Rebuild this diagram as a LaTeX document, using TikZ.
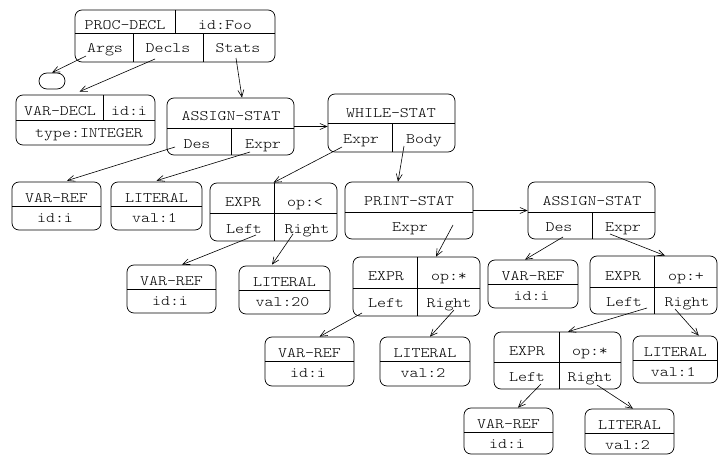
\documentclass[tikz,border=0pt]{standalone}
\usepackage{fontspec}
\setmonofont{lmmonolt10-regular.otf}[FakeStretch=1.18]
\usetikzlibrary{arrows.meta,calc}
\tikzset{
  ast/.style={draw, rounded corners=7pt, inner sep=0pt},
  field/.style={font=\ttfamily\fontsize{14.5}{16}\selectfont, inner sep=0pt, text height=9pt, text depth=0pt},
  link/.style={-{Straight Barb[length=7pt,width=6pt]}, line width=0.6pt},
}
% box from its corners (x1,y1) (x2,y2)
\newcommand{\astbox}[5]{%
  \node[ast, minimum width={#4-#2}, minimum height={#5-#3}] (#1) at ({(#2+#4)/2},{(#3+#5)/2}) {};}
\begin{document}
\begin{tikzpicture}[x=1pt,y=-1pt,line width=0.7pt]
  \useasboundingbox (0,0) rectangle (718,455);
  % PROC-DECL
  \astbox{proc}{75}{10}{275}{62}
  \draw (75,33) -- (275,33) (175,10) -- (175,33) (133,33) -- (133,62) (203,33) -- (203,62);
  \node[field] (proc-name) at (125,25) {PROC-DECL};
  \node[field] (proc-id) at (225,25) {id:Foo};
  \node[field] (proc-args) at (105,47.5) {Args};
  \node[field] (proc-decls) at (168,47.5) {Decls};
  \node[field] (proc-stats) at (238,47.5) {Stats};
  \node[ast, minimum width=26, minimum height=16, rounded corners=8pt] (nil) at (52,81) {};
  % VAR-DECL
  \astbox{vdecl}{16}{95}{155}{145}
  \draw (16,120) -- (155,120) (103,95) -- (103,120);
  \node[field] (vdecl-name) at (60,110.5) {VAR-DECL};
  \node[field] (vdecl-id) at (129,110.5) {id:i};
  \node[field] (vdecl-type) at (89,132.5) {type:INTEGER};
  % ASSIGN-STAT
  \astbox{asg}{167}{98}{294}{155}
  \draw (167,128) -- (294,128) (231,128) -- (231,155);
  \node[field] (asg-name) at (231,115.5) {ASSIGN-STAT};
  \node[field] (asg-des) at (197,143.5) {Des};
  \node[field] (asg-expr) at (263,143.5) {Expr};
  % WHILE-STAT
  \astbox{while}{328}{94}{455}{152}
  \draw (328,123) -- (455,123) (392,123) -- (392,152);
  \node[field] (while-name) at (391,112.5) {WHILE-STAT};
  \node[field] (while-expr) at (361,138.5) {Expr};
  \node[field] (while-body) at (424,138.5) {Body};
  % PRINT-STAT
  \astbox{print}{345}{182}{473}{239}
  \draw (345,212) -- (473,212);
  \node[field] (print-name) at (409,201) {PRINT-STAT};
  \node[field] (print-expr) at (410,227) {Expr};
  % ASSIGN-STAT
  \astbox{asgb}{528}{182}{655}{239}
  \draw (528,212) -- (655,212) (592,212) -- (592,239);
  \node[field] (asgb-name) at (592,201) {ASSIGN-STAT};
  \node[field] (asgb-des) at (559,227) {Des};
  \node[field] (asgb-expr) at (623,227) {Expr};
  % EXPR op:<
  \astbox{lt}{210}{183}{337}{241}
  \draw (210,213) -- (337,213) (274,183) -- (274,241);
  \node[field] (lt-name) at (243,202) {EXPR};
  \node[field] (lt-op) at (305,202) {op:<};
  \node[field] (lt-left) at (244,228.5) {Left};
  \node[field] (lt-right) at (307,228.5) {Right};
  % EXPR op:*
  \astbox{mula}{353}{257}{480}{316}
  \draw (353,288) -- (480,288) (417,257) -- (417,316);
  \node[field] (mula-name) at (386,276) {EXPR};
  \node[field] (mula-op) at (449,276) {op:*};
  \node[field] (mula-left) at (386,302.5) {Left};
  \node[field] (mula-right) at (449,302.5) {Right};
  % EXPR op:+
  \astbox{plus}{590}{256}{717}{314}
  \draw (590,287) -- (717,287) (654,256) -- (654,314);
  \node[field] (plus-name) at (623,275.5) {EXPR};
  \node[field] (plus-op) at (686,275.5) {op:+};
  \node[field] (plus-left) at (624,301.5) {Left};
  \node[field] (plus-right) at (687,301.5) {Right};
  % EXPR op:*
  \astbox{mulb}{494}{332}{621}{389}
  \draw (494,362) -- (621,362) (559,332) -- (559,389);
  \node[field] (mulb-name) at (527,351) {EXPR};
  \node[field] (mulb-op) at (590,351) {op:*};
  \node[field] (mulb-left) at (527,376.5) {Left};
  \node[field] (mulb-right) at (590,376.5) {Right};
  % VAR-REF leaves
  \foreach \n/\xa/\ya/\xb/\yb in {vra/12/182/101/230, vrb/127/265/216/313, vrc/488/260/578/308,
                                  vrd/265/337/354/386, vre/464/408/553/454} {
    \astbox{\n}{\xa}{\ya}{\xb}{\yb}
    \draw (\xa,\ya+24) -- (\xb,\ya+24);
    \node[field] (\n-name) at ({(\xa+\xb)/2},\ya+16) {VAR-REF};
    \node[field] (\n-id) at ({(\xa+\xb)/2-1.5},\ya+35.5) {id:i};
  }
  % LITERAL leaves
  \foreach \n/\xa/\ya/\xb/\yb/\v in {lita/111/182/202/230/1, litb/239/266/330/314/20, litc/380/337/470/386/2,
                                     litd/633/336/717.5/383/1, lite/585/409/674/454/2} {
    \astbox{\n}{\xa}{\ya}{\xb}{\yb}
    \draw (\xa,\ya+24) -- (\xb,\ya+24);
    \node[field] (\n-name) at ({(\xa+\xb)/2},\ya+16) {LITERAL};
    \node[field] (\n-val) at ({(\xa+\xb)/2-2},\ya+35.5) {val:\v};
  }
  % links
  \draw[link] ($(proc-args)+(-19,8.5)$) -- (nil.north);
  \draw[link] ($(proc-decls)+(-13,11.5)$) -- ($(vdecl.north)+(-6,-3)$);
  \draw[link] ($(proc-stats)+(-2,10.5)$) -- ($(asg.north)+(11.5,0)$);
  \draw[link] ($(asg-des)+(-22,3.5)$) -- ($(vra.north)+(10.5,-1)$);
  \draw[link] ($(asg-expr)+(-13,8.5)$) -- ($(lita.north)+(0,-1)$);
  \draw[link] (asg.east) -- (asg.east -| while.west);
  \draw[link] ($(while-expr)+(-19,8.5)$) -- (lt.north);
  \draw[link] ($(while-body)+(-20,7.5)$) -- ($(print.north)+(-11,0)$);
  \draw[link] (print.east) -- (print.east -| asgb.west);
  \draw[link] ($(lt-left)+(12,6.5)$) -- ($(vrb.north)+(10.5,0)$);
  \draw[link] ($(lt-right)+(-14,5.5)$) -- ($(litb.north)+(-12.5,-1)$);
  \draw[link] ($(print-expr)+(43,-2)$) -- ($(mula.north)+(19.5,0)$);
  \draw[link] ($(asgb-des)+(4,10)$) -- ($(vrc.north)+(-8,0)$);
  \draw[link] ($(asgb-expr)+(-13,7)$) -- ($(plus.north)+(11.5,0)$);
  \draw[link] ($(mula-left)+(-24,10.5)$) -- ($(vrd.north)+(10,0)$);
  \draw[link] ($(mula-right)+(5,7.5)$) -- ($(litc.north)+(5,0)$);
  \draw[link] ($(plus-left)+(23,6.5)$) -- ($(mulb.north)+(10.5,0)$);
  \draw[link] ($(plus-right)+(-12,7.5)$) -- ($(litd.north)+(23.5,0)$);
  \draw[link] ($(mulb-left)+(14,7.5)$) -- ($(vre.north)+(9.5,0)$);
  \draw[link] ($(mulb-right)+(7,8.5)$) -- ($(lite.north)+(3.5,0)$);
\end{tikzpicture}
\end{document}
